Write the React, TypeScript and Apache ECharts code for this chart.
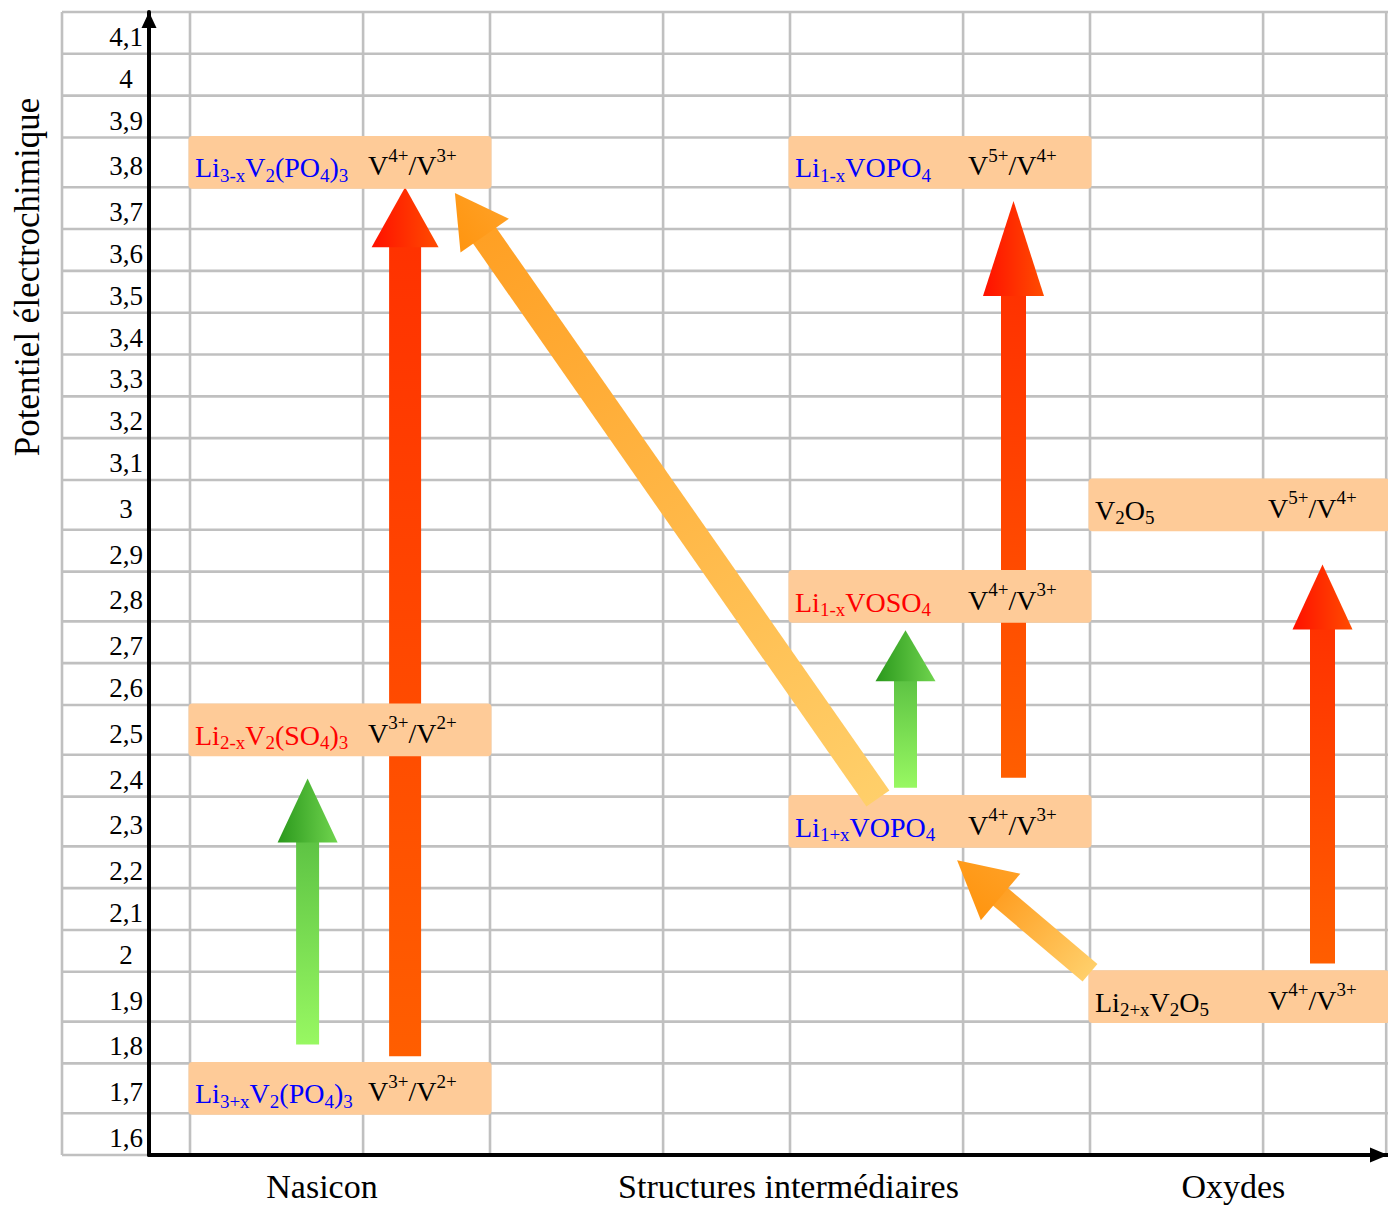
import React, { useEffect, useRef } from 'react';
import * as echarts from 'echarts';

// ---------- data ----------
const potentials = [1.6, 1.7, 1.8, 1.9, 2.0, 2.1, 2.2, 2.3, 2.4, 2.5, 2.6, 2.7, 2.8, 2.9, 3.0, 3.1, 3.2, 3.3, 3.4, 3.5, 3.6, 3.7, 3.8, 3.9, 4.0, 4.1];
const tickLabels = ['1,6', '1,7', '1,8', '1,9', '2', '2,1', '2,2', '2,3', '2,4', '2,5', '2,6', '2,7', '2,8', '2,9', '3', '3,1', '3,2', '3,3', '3,4', '3,5', '3,6', '3,7', '3,8', '3,9', '4', '4,1'];
const categories = ['Nasicon', 'Structures intermédiaires', 'Oxydes'];
const categoryX = [0.44, 1.995, 3.478];

const boxSlot = [0, 0, 0, 2, 2, 2, 3, 3];
const boxPotential = [3.8, 2.5, 1.7, 3.8, 2.8, 2.3, 3.0, 1.9];
const boxCompound = [
  'Li{s|3-x}V{s|2}(PO{s|4}){s|3}',
  'Li{s|2-x}V{s|2}(SO{s|4}){s|3}',
  'Li{s|3+x}V{s|2}(PO{s|4}){s|3}',
  'Li{s|1-x}VOPO{s|4}',
  'Li{s|1-x}VOSO{s|4}',
  'Li{s|1+x}VOPO{s|4}',
  'V{s|2}O{s|5}',
  'Li{s|2+x}V{s|2}O{s|5}',
];
const boxCouple = [
  'V{u|4+}/V{u|3+}',
  'V{u|3+}/V{u|2+}',
  'V{u|3+}/V{u|2+}',
  'V{u|5+}/V{u|4+}',
  'V{u|4+}/V{u|3+}',
  'V{u|4+}/V{u|3+}',
  'V{u|5+}/V{u|4+}',
  'V{u|4+}/V{u|3+}',
];
const boxFamily = ['phosphate', 'sulfate', 'phosphate', 'phosphate', 'sulfate', 'phosphate', 'oxide', 'oxide'];

const arrowFromX = [0.717, 0.392, 2.293, 3.0, 2.385, 2.745, 3.775];
const arrowFromP = [1.767, 1.795, 2.346, 1.948, 2.371, 2.395, 1.97];
const arrowToX = [0.717, 0.392, 0.883, 2.557, 2.385, 2.745, 3.775];
const arrowToP = [3.75, 2.393, 3.736, 2.217, 2.729, 3.717, 2.867];
const arrowKind = ['red', 'green', 'orange', 'orange', 'green', 'red', 'red'];

// ---------- layout / style ----------
const FONT = "'Liberation Serif', 'Times New Roman', Times, serif";
const X_MIN = -41 / 300;
const X_MAX = 1198 / 300;
const LABEL_COL_LEFT = -128 / 300;
const NAME_COL = 0.577;
const BOX_ROW = 1.19;

const FAMILY_COLOR: Record<string, string> = { phosphate: '#0000ff', sulfate: '#ff0000', oxide: '#000000' };
const ARROW_GEOM = [
  { shaft: 32, headW: 67, headL: 60 },
  { shaft: 23, headW: 60, headL: 64 },
  { shaft: 28, headW: 59, headL: 52 },
  { shaft: 23, headW: 61, headL: 57 },
  { shaft: 23, headW: 60, headL: 51 },
  { shaft: 25, headW: 61, headL: 95 },
  { shaft: 25, headW: 60, headL: 65 },
];
const ARROW_COLORS: Record<string, { head: string[]; shaft: string[] }> = {
  red: { head: ['#ff1000', '#ff4c00'], shaft: ['#ff3200', '#ff5e00'] },
  green: { head: ['#2a981c', '#70d44e'], shaft: ['#5ec444', '#98f862'] },
  orange: { head: ['#ff9510', '#ffa024'], shaft: ['#ffa024', '#ffcf6a'] },
};

const rowHeights = potentials.map((p) => (boxPotential.some((b) => Math.abs(b - p) < 1e-6) ? BOX_ROW : 1));
const rowBottoms: number[] = [];
{
  let acc = 0;
  rowHeights.forEach((h) => {
    rowBottoms.push(acc);
    acc += h;
  });
}
const Y_MAX = rowBottoms[rowBottoms.length - 1] + rowHeights[rowHeights.length - 1];

function potToY(p: number): number {
  const t = (p - (potentials[0] - 0.05)) / 0.1;
  let k = Math.floor(t + 1e-9);
  if (k < 0) k = 0;
  if (k > potentials.length - 1) k = potentials.length - 1;
  const frac = t - k;
  return rowBottoms[k] + frac * rowHeights[k];
}

const rich = {
  s: { fontSize: 19, fontFamily: FONT, verticalAlign: 'bottom', lineHeight: 19, height: 19 },
  u: { fontSize: 19, fontFamily: FONT, verticalAlign: 'top', lineHeight: 19, height: 13 },
};

// grid line segments
const boundaries = [...rowBottoms, Y_MAX];
const colEdges = [LABEL_COL_LEFT, 0, NAME_COL, 1, 1 + NAME_COL, 2, 2 + NAME_COL, 3, 3 + NAME_COL, X_MAX - 0.006];
const gridSegments = [
  ...boundaries.map((b) => [LABEL_COL_LEFT, b, X_MAX, b]),
  ...colEdges.map((x) => [x, 0, x, Y_MAX]),
];

function makeArrowRenderer(kinds: string[]) {
  return (params: any, api: any) => {
    const i = params.dataIndex;
    if (kinds.indexOf(arrowKind[i]) < 0) return null;
    const tail = api.coord([api.value(0), api.value(1)]);
    const tip = api.coord([api.value(2), api.value(3)]);
    const g = ARROW_GEOM[i];
    const col = ARROW_COLORS[arrowKind[i]];
    const dx = tip[0] - tail[0];
    const dy = tip[1] - tail[1];
    const len = Math.hypot(dx, dy);
    const ux = dx / len;
    const uy = dy / len;
    const nx = -uy;
    const ny = ux;
    const bx = tip[0] - ux * g.headL;
    const by = tip[1] - uy * g.headL;
    const bx2 = bx + ux * 1.5;
    const by2 = by + uy * 1.5;
    const hs = g.shaft / 2;
    const hh = g.headW / 2;
    const shaftPts = [
      [tail[0] + nx * hs, tail[1] + ny * hs],
      [bx2 + nx * hs, by2 + ny * hs],
      [bx2 - nx * hs, by2 - ny * hs],
      [tail[0] - nx * hs, tail[1] - ny * hs],
    ];
    const headPts = [
      [bx + nx * hh, by + ny * hh],
      [tip[0], tip[1]],
      [bx - nx * hh, by - ny * hh],
    ];
    const shaftFill = new echarts.graphic.LinearGradient(
      bx, by, tail[0], tail[1],
      [{ offset: 0, color: col.shaft[0] }, { offset: 1, color: col.shaft[1] }],
      true
    );
    const headFill = new echarts.graphic.LinearGradient(
      bx - nx * hh, by - ny * hh, bx + nx * hh, by + ny * hh,
      [{ offset: 0, color: col.head[0] }, { offset: 1, color: col.head[1] }],
      true
    );
    return {
      type: 'group',
      children: [
        { type: 'polygon', shape: { points: shaftPts }, style: { fill: shaftFill } },
        { type: 'polygon', shape: { points: headPts }, style: { fill: headFill } },
      ],
    };
  };
}

const arrowData = arrowFromX.map((x, i) => [x, potToY(arrowFromP[i]), arrowToX[i], potToY(arrowToP[i])]);

function buildOption() {
  return {
    animation: false,
    grid: { left: 149, right: 0, top: 12, bottom: 50 },
    xAxis: {
      type: 'value',
      min: X_MIN,
      max: X_MAX,
      z: 10,
      axisLine: {
        show: true,
        onZero: false,
        lineStyle: { color: '#000', width: 4 },
        symbol: ['none', 'triangle'],
        symbolSize: [15, 18],
        symbolOffset: [0, -9],
      },
      axisTick: { show: false },
      axisLabel: { show: false },
      splitLine: { show: false },
    },
    yAxis: {
      type: 'value',
      min: 0,
      max: Y_MAX,
      z: 10,
      axisLine: {
        show: true,
        onZero: false,
        lineStyle: { color: '#000', width: 4 },
        symbol: ['none', 'triangle'],
        symbolSize: [15, 16],
        symbolOffset: [0, -8],
      },
      axisTick: { show: false },
      axisLabel: { show: false },
      splitLine: { show: false },
    },
    graphic: [
      {
        type: 'text',
        x: 27,
        y: 277,
        rotation: Math.PI / 2,
        style: {
          text: 'Potentiel électrochimique',
          fontSize: 35,
          fontFamily: FONT,
          fill: '#000',
          align: 'center',
          verticalAlign: 'middle',
        },
      },
    ],
    series: [
      {
        type: 'custom',
        name: 'grid',
        z: 1,
        clip: false,
        silent: true,
        data: gridSegments,
        renderItem: (params: any, api: any) => {
          const a = api.coord([api.value(0), api.value(1)]);
          const b = api.coord([api.value(2), api.value(3)]);
          return {
            type: 'line',
            shape: { x1: a[0], y1: a[1], x2: b[0], y2: b[1] },
            style: { stroke: '#c0c0c0', lineWidth: 2.6 },
          };
        },
      },
      {
        type: 'custom',
        name: 'ticks',
        z: 2,
        clip: false,
        silent: true,
        data: potentials.map((p) => [X_MIN, potToY(p)]),
        renderItem: (params: any, api: any) => {
          const c = api.coord([api.value(0), api.value(1)]);
          return {
            type: 'text',
            style: {
              text: tickLabels[params.dataIndex],
              x: c[0] - 23,
              y: c[1] + 4,
              fontSize: 27,
              fontFamily: FONT,
              fill: '#000',
              align: 'center',
              verticalAlign: 'middle',
            },
          };
        },
      },
      {
        type: 'custom',
        name: 'categories',
        z: 2,
        clip: false,
        silent: true,
        data: categoryX.map((x) => [x, 0]),
        renderItem: (params: any, api: any) => {
          const c = api.coord([api.value(0), api.value(1)]);
          return {
            type: 'text',
            style: {
              text: categories[params.dataIndex],
              x: c[0],
              y: c[1] + 31,
              fontSize: 34,
              fontFamily: FONT,
              fill: '#000',
              align: 'center',
              verticalAlign: 'middle',
            },
          };
        },
      },
      {
        type: 'custom',
        name: 'arrows-vertical',
        z: 3,
        clip: false,
        silent: true,
        data: arrowData,
        renderItem: makeArrowRenderer(['red', 'green']),
      },
      {
        type: 'custom',
        name: 'boxes',
        z: 4,
        clip: false,
        silent: true,
        data: boxPotential.map((p, i) => [boxSlot[i], potToY(p - 0.05), Math.min(boxSlot[i] + 1, X_MAX), potToY(p + 0.05)]),
        renderItem: (params: any, api: any) => {
          const i = params.dataIndex;
          const bl = api.coord([api.value(0), api.value(1)]);
          const tr = api.coord([api.value(2), api.value(3)]);
          const split = api.coord([api.value(0) + NAME_COL, api.value(3)]);
          const x0 = bl[0] - 1.5;
          const x1 = tr[0] + 1.5;
          const y0 = tr[1] - 1.5;
          const y1 = bl[1] + 1.5;
          const color = FAMILY_COLOR[boxFamily[i]];
          return {
            type: 'group',
            children: [
              {
                type: 'rect',
                shape: { x: x0, y: y0, width: x1 - x0, height: y1 - y0, r: 4 },
                style: { fill: '#fecb98' },
              },
              {
                type: 'text',
                style: {
                  text: boxCompound[i],
                  x: bl[0] + 5,
                  y: tr[1] + 13.5,
                  fontSize: 28,
                  fontFamily: FONT,
                  lineHeight: 34,
                  fill: color,
                  align: 'left',
                  verticalAlign: 'top',
                  rich,
                },
              },
              {
                type: 'text',
                style: {
                  text: boxCouple[i],
                  x: split[0] + 5,
                  y: tr[1] + 11.5,
                  fontSize: 28,
                  fontFamily: FONT,
                  lineHeight: 34,
                  fill: '#000',
                  align: 'left',
                  verticalAlign: 'top',
                  rich,
                },
              },
            ],
          };
        },
      },
      {
        type: 'custom',
        name: 'arrows-diagonal',
        z: 5,
        clip: false,
        silent: true,
        data: arrowData,
        renderItem: makeArrowRenderer(['orange']),
      },
    ],
  };
}

export default function App() {
  const ref = useRef<HTMLDivElement>(null);
  useEffect(() => {
    document.body.style.margin = '0';
    const chart = echarts.init(ref.current as HTMLDivElement, undefined, { renderer: 'svg' });
    chart.setOption(buildOption() as any);
    return () => chart.dispose();
  }, []);
  return <div ref={ref} style={{ width: 1388, height: 1205 }} />;
}
